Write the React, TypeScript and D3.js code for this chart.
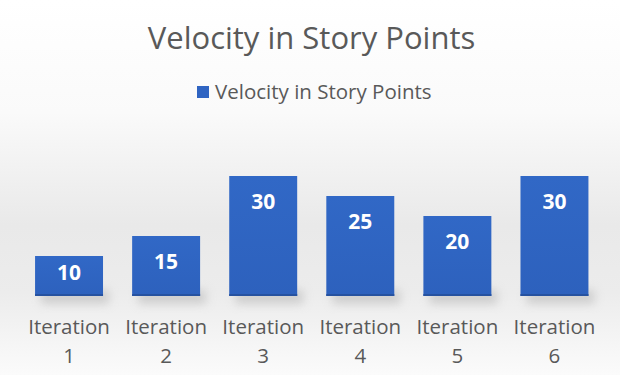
import React from "react";
import * as d3 from "d3";

const categories = ["Iteration 1", "Iteration 2", "Iteration 3", "Iteration 4", "Iteration 5", "Iteration 6"];
const velocity = [10, 15, 30, 25, 20, 30];
const seriesName = "Velocity in Story Points";
const title = "Velocity in Story Points";

const W = 620;
const H = 375;
const FONT = "'Open Sans', 'Noto Sans', sans-serif";

export default function App() {
  const x = d3.scaleBand<string>().domain(categories).range([20.5, 603]).paddingInner(0.3).paddingOuter(0.15);
  const y = d3.scaleLinear().domain([0, 30]).range([296, 176]);
  const base = y(0);

  return (
    <div style={{ position: "fixed", left: 0, top: 0, width: W, height: H }}>
      <svg width={W} height={H} style={{ display: "block" }}>
        <defs>
          <linearGradient id="bg" x1="0" y1="0" x2="0" y2="1">
            <stop offset="0" stopColor="#ffffff" />
            <stop offset="0.3" stopColor="#fafafa" />
            <stop offset="0.6" stopColor="#e9e9e9" />
            <stop offset="0.78" stopColor="#ececec" />
            <stop offset="1" stopColor="#fbfbfb" />
          </linearGradient>
          <linearGradient id="bar" x1="0" y1="0" x2="0" y2="1">
            <stop offset="0" stopColor="#3168c6" />
            <stop offset="1" stopColor="#2d61bd" />
          </linearGradient>
          <filter id="blur" x="-20%" y="-100%" width="140%" height="300%">
            <feGaussianBlur stdDeviation="5" />
          </filter>
        </defs>
        <rect x={0} y={0} width={W} height={H} fill="url(#bg)" />
        <text x={311.5} y={49} textAnchor="middle" fontFamily={FONT} fontSize={31} fill="#595959">
          {title}
        </text>
        <g>
          <rect x={197} y={86} width={12} height={12} fill="#2f64c2" />
          <text x={215} y={99} fontFamily={FONT} fontSize={20.5} fill="#595959">
            {seriesName}
          </text>
        </g>
        <g>
          {categories.map((c) => (
            <rect
              key={"s" + c}
              x={(x(c) as number) + 6}
              y={base - 6}
              width={x.bandwidth()}
              height={14}
              fill="#b5b5b5"
              opacity={0.55}
              filter="url(#blur)"
            />
          ))}
        </g>
        <g>
          {categories.map((c, i) => {
            const top = y(velocity[i]);
            return (
              <g key={c}>
                <rect x={x(c)} y={top} width={x.bandwidth()} height={base - top} fill="url(#bar)" />
                <rect x={x(c)} y={base - 2} width={x.bandwidth()} height={2} fill="#2652a0" />
              </g>
            );
          })}
        </g>
        <g>
          {categories.map((c, i) => {
            const top = y(velocity[i]);
            const cy = Math.min(top + 25, (top + base) / 2 - 4);
            return (
              <text
                key={"l" + c}
                x={(x(c) as number) + x.bandwidth() / 2}
                y={cy}
                dy="0.36em"
                textAnchor="middle"
                fontFamily={FONT}
                fontWeight="bold"
                fontSize={21}
                fill="#ffffff"
              >
                {velocity[i]}
              </text>
            );
          })}
        </g>
        <g>
          {categories.map((c) => {
            const parts = c.split(" ");
            const cx = (x(c) as number) + x.bandwidth() / 2;
            return (
              <text key={"a" + c} textAnchor="middle" fontFamily={FONT} fontSize={20.5} fill="#595959">
                <tspan x={cx} y={334}>{parts[0]}</tspan>
                <tspan x={cx} y={363}>{parts[1]}</tspan>
              </text>
            );
          })}
        </g>
      </svg>
    </div>
  );
}
